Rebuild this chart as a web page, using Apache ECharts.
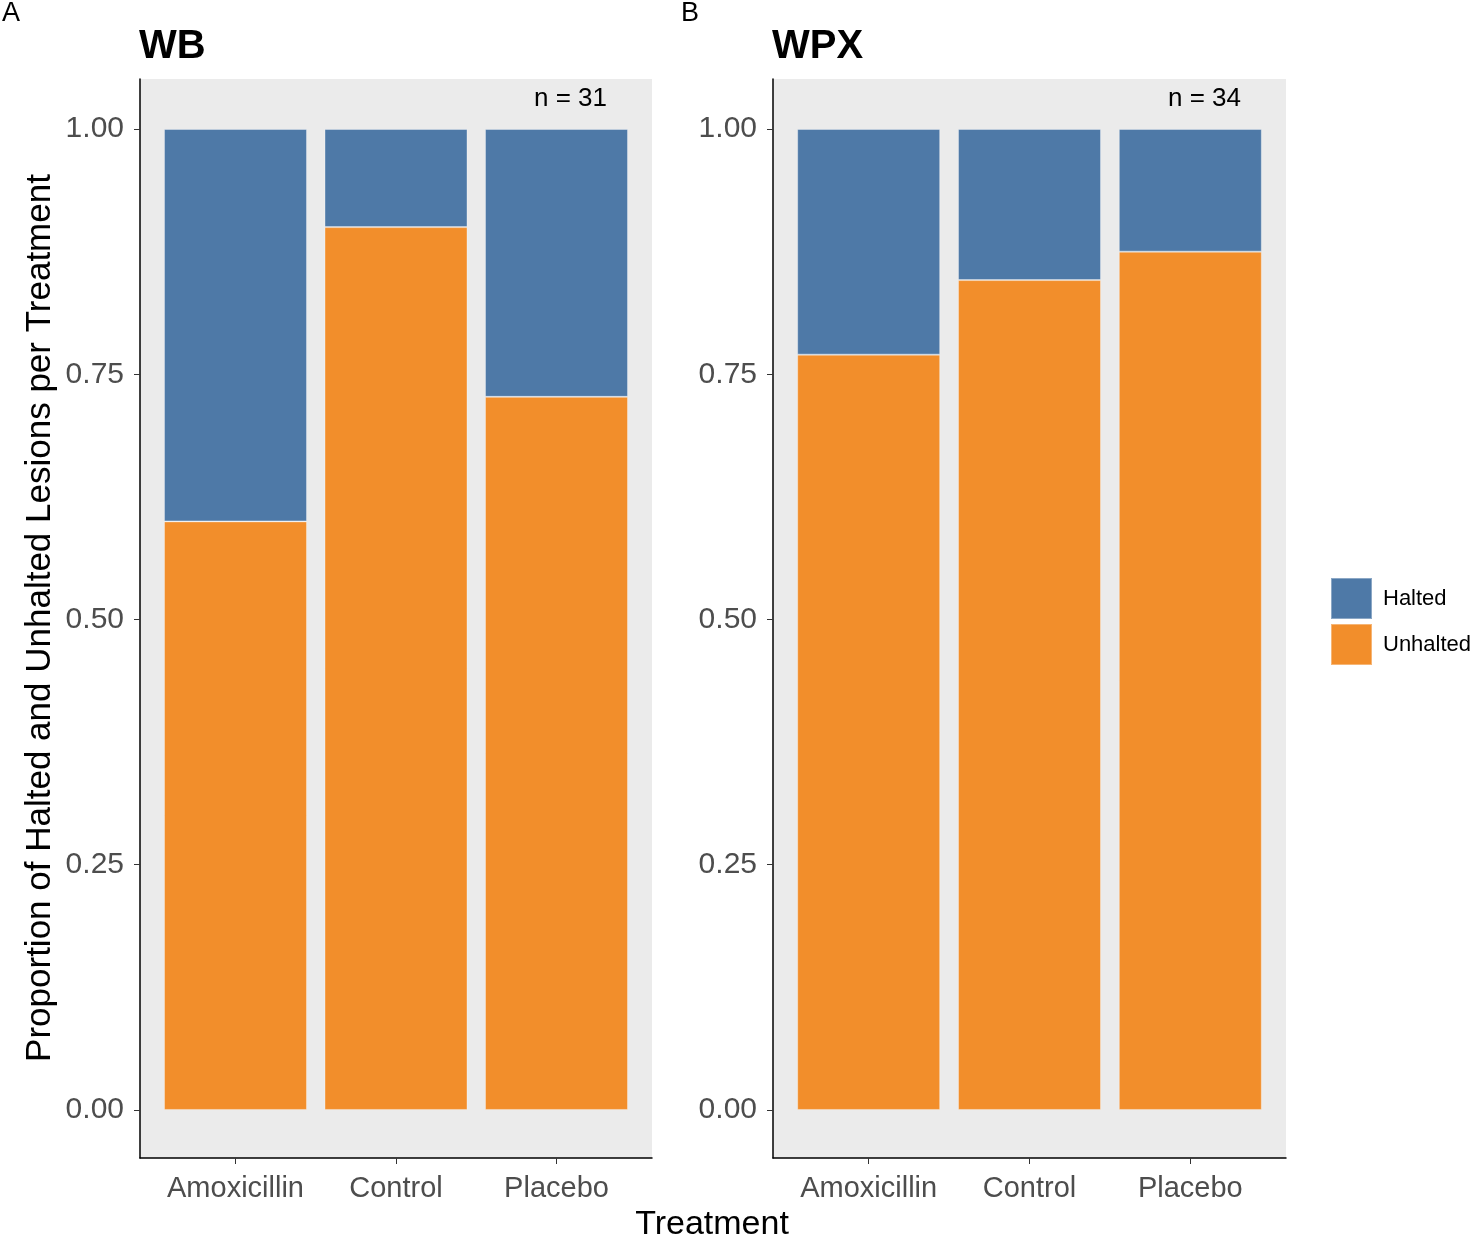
<!DOCTYPE html>
<html>
<head>
    <meta charset="utf-8" />
    <style>
        html, body { margin: 0; padding: 0; background: #fff; }
        #main { width: 1476px; height: 1239px; }
    </style>
    <script src="https://cdn.jsdelivr.net/npm/echarts@6/dist/echarts.min.js"></script>
</head>
<body>
    <div id="main"></div>
    <script type="text/javascript">
        // 数据
        var treatments = ['Amoxicillin', 'Control', 'Placebo'];
        var wbUnhalted = [0.60, 0.90, 0.727];
        var wbHalted = [0.40, 0.10, 0.273];
        var wpxUnhalted = [0.77, 0.846, 0.875];
        var wpxHalted = [0.23, 0.154, 0.125];
        var yTicks = [0, 0.25, 0.5, 0.75, 1];
        var xTicks = [0, 1, 2];

        var blue = '#4E79A7';
        var orange = '#F28E2B';
        var font = 'Liberation Sans, Arial, sans-serif';

        // [value, index] 让堆叠落在 y 维
        function pairs(arr) {
            return arr.map(function (v, i) { return [v, i]; });
        }

        function makeX(idx) {
            return {
                type: 'value', gridIndex: idx,
                min: -0.595, max: 2.595,
                splitLine: { show: false },
                axisLine: { onZero: false, lineStyle: { color: '#000', width: 1.5 } },
                axisTick: { customValues: xTicks, length: 6, lineStyle: { color: '#333' } },
                axisLabel: {
                    customValues: xTicks, margin: 16,
                    color: '#4D4D4D', fontSize: 29, fontFamily: font,
                    formatter: function (v) { return treatments[Math.round(v)]; }
                }
            };
        }
        function makeY(idx) {
            return {
                type: 'value', gridIndex: idx,
                min: -0.049, max: 1.051,
                splitLine: { show: false },
                axisLine: { onZero: false, lineStyle: { color: '#000', width: 1.5 } },
                axisTick: { customValues: yTicks, length: 6, lineStyle: { color: '#333' } },
                axisLabel: {
                    customValues: yTicks, margin: 16,
                    color: '#4D4D4D', fontSize: 30, fontFamily: font,
                    formatter: function (v) { return v.toFixed(2); }
                }
            };
        }
        function makeBar(name, data, idx, color) {
            return {
                name: name, type: 'bar', stack: 'p' + idx,
                xAxisIndex: idx, yAxisIndex: idx,
                encode: { x: 1, y: 0 },
                barWidth: 143,
                itemStyle: { color: color, borderColor: 'rgba(255,255,255,0.35)', borderWidth: 1 },
                data: pairs(data)
            };
        }

        var chart = echarts.init(document.getElementById('main'));
        var option = {
            animation: false,
            backgroundColor: '#fff',
            grid: [
                { left: 140, top: 79, width: 512, height: 1079, show: true, backgroundColor: '#EBEBEB', borderWidth: 0 },
                { left: 773, top: 79, width: 513, height: 1079, show: true, backgroundColor: '#EBEBEB', borderWidth: 0 }
            ],
            xAxis: [makeX(0), makeX(1)],
            yAxis: [makeY(0), makeY(1)],
            legend: {
                data: ['Halted', 'Unhalted'],
                orient: 'vertical', left: 1325, top: 572,
                itemWidth: 41, itemHeight: 41, itemGap: 3,
                icon: 'rect',
                textStyle: { color: '#000', fontSize: 22, fontFamily: font, padding: [0, 0, 0, 6] }
            },
            series: [
                makeBar('Unhalted', wbUnhalted, 0, orange),
                makeBar('Halted', wbHalted, 0, blue),
                makeBar('Unhalted', wpxUnhalted, 1, orange),
                makeBar('Halted', wpxHalted, 1, blue)
            ],
            graphic: [
                { type: 'text', left: 2, top: 0, style: { text: 'A', fontSize: 27, fontFamily: font, fill: '#000' } },
                { type: 'text', left: 681, top: 0, style: { text: 'B', fontSize: 27, fontFamily: font, fill: '#000' } },
                { type: 'text', left: 139, top: 27, style: { text: 'WB', fontSize: 40, fontWeight: 'bold', fontFamily: font, fill: '#000' } },
                { type: 'text', left: 772, top: 27, style: { text: 'WPX', fontSize: 40, fontWeight: 'bold', fontFamily: font, fill: '#000' } },
                { type: 'text', left: 534, top: 86, style: { text: 'n = 31', fontSize: 26, fontFamily: font, fill: '#000' } },
                { type: 'text', left: 1168, top: 86, style: { text: 'n = 34', fontSize: 26, fontFamily: font, fill: '#000' } },
                { type: 'text', x: 712, y: 1225, style: { text: 'Treatment', fontSize: 34, fontFamily: font, fill: '#000', align: 'center', verticalAlign: 'middle' } },
                { type: 'text', x: 40, y: 618, rotation: Math.PI / 2, style: { text: 'Proportion of Halted and Unhalted Lesions per Treatment', fontSize: 35, fontFamily: font, fill: '#000', align: 'center', verticalAlign: 'middle' } }
            ]
        };
        chart.setOption(option);
    </script>
</body>
</html>
